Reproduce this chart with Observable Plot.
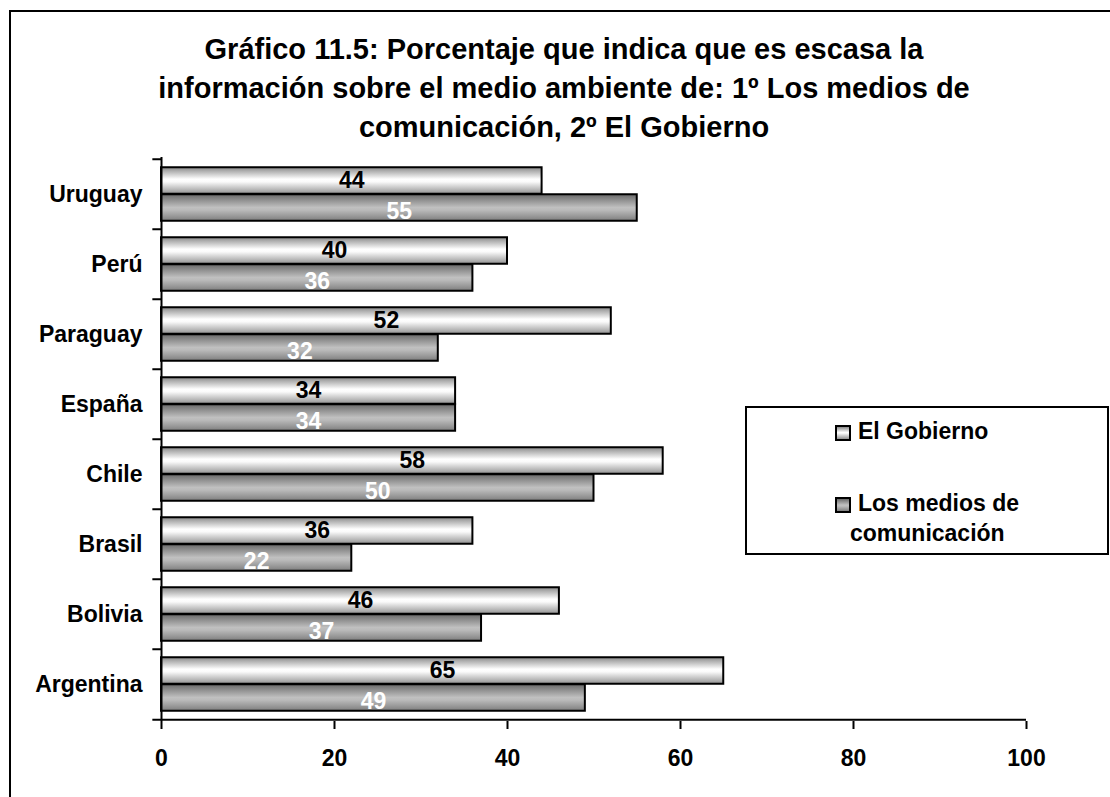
<!DOCTYPE html>
<html>
<head>
<meta charset="utf-8">
<script src="https://cdn.jsdelivr.net/npm/d3@7"></script>
<script src="https://cdn.jsdelivr.net/npm/@observablehq/plot@0.6"></script>
<style>
  body { margin: 0; background: #fff; font-family: "Liberation Sans", Arial, sans-serif; }
  #wrap { position: relative; width: 1110px; height: 797px; overflow: hidden; background: #fff; }
  #frame { position: absolute; left: 9px; top: 10px; width: 1200px; height: 900px; border: 2px solid #000; }
  #title { position: absolute; left: 0; top: 0; width: 1128px; padding-top: 30px; text-align: center;
           font-weight: bold; font-size: 29px; line-height: 39px; color: #000; }
  #chart { position: absolute; left: 0; top: 140px; }
  #legend { position: absolute; left: 745px; top: 406px; width: 360px; height: 145px; border: 2px solid #000; background: #fff; }
  .sw { position: absolute; width: 12px; height: 12px; border: 2px solid #000; }
  .lt { position: absolute; font-weight: bold; font-size: 23px; line-height: 27px; white-space: nowrap; color: #000; }
</style>
</head>
<body>
<div id="wrap">
  <div id="frame"></div>
  <div id="title"></div>
  <div id="chart"></div>
  <div id="legend"></div>
</div>
<script>
// ---- data ----
const titleLines = [
  "Gráfico 11.5: Porcentaje que indica que es escasa la",
  "información sobre el medio ambiente de: 1º Los medios de",
  "comunicación, 2º El Gobierno"
];
const countries = ["Uruguay", "Perú", "Paraguay", "España", "Chile", "Brasil", "Bolivia", "Argentina"];
const gobierno = [44, 40, 52, 34, 58, 36, 46, 65];
const medios = [55, 36, 32, 34, 50, 22, 37, 49];
const seriesNames = ["El Gobierno", "Los medios de comunicación"];
const xTicks = [0, 20, 40, 60, 80, 100];

// ---- tables ----
const rowsGob = countries.map((c, i) => ({country: c, value: gobierno[i]}));
const rowsMed = countries.map((c, i) => ({country: c, value: medios[i]}));

// ---- layout ----
const W = 1110, H = 657;
const mTop = 17, mBottom = 76, mLeft = 161, mRight = 84;
const step = (H - mTop - mBottom) / countries.length;
const barH = 27;
const pad = (step - 2 * barH) / 2;
const font = "Liberation Sans, Arial, sans-serif";

document.getElementById("title").innerHTML = titleLines.join("<br>");

const svg = Plot.plot({
  width: W,
  height: H,
  marginTop: mTop,
  marginBottom: mBottom,
  marginLeft: mLeft,
  marginRight: mRight,
  style: {fontFamily: font, background: "transparent", overflow: "visible"},
  x: {domain: [0, 100], ticks: xTicks, label: null},
  y: {domain: countries, padding: 0, label: null},
  marks: [
    Plot.barX(rowsGob, {x: "value", y: "country", fill: "url(#gGob)", stroke: "#000", strokeWidth: 2,
      insetTop: pad, insetBottom: step - pad - barH}),
    Plot.barX(rowsMed, {x: "value", y: "country", fill: "url(#gMed)", stroke: "#000", strokeWidth: 2,
      insetTop: pad + barH, insetBottom: pad}),
    Plot.ruleX([0], {stroke: "#000", strokeWidth: 2}),
    Plot.ruleY(countries, {y: d => d, x1: -1, x2: 0, dy: -step / 2, stroke: "#000", strokeWidth: 2}),
    Plot.ruleY(countries.slice(-1), {y: d => d, x1: -1, x2: 100, dy: step / 2, stroke: "#000", strokeWidth: 2}),
    Plot.axisX(xTicks, {label: null, tickSize: 8, tickPadding: 20, fontSize: 23, fontWeight: "bold", stroke: "#000", strokeWidth: 2, fill: "#000"}),
    Plot.axisY({label: null, tickSize: 0, tickPadding: 19, fontSize: 23, fontWeight: "bold", fill: "#000"}),
    Plot.text(rowsGob, {x: d => d.value / 2, y: "country", text: "value", dy: -barH / 2,
      fontSize: 23, fontWeight: "bold", fill: "#000"}),
    Plot.text(rowsMed, {x: d => d.value / 2, y: "country", text: "value", dy: barH / 2 + 4,
      fontSize: 23, fontWeight: "bold", fill: "#fff"})
  ]
});

// gradients for cylinder-like shading
const defs = d3.select(svg).insert("defs", ":first-child");
function grad(id, stops) {
  const g = defs.append("linearGradient").attr("id", id)
    .attr("x1", 0).attr("y1", 0).attr("x2", 0).attr("y2", 1);
  stops.forEach(([o, c]) => g.append("stop").attr("offset", o).attr("stop-color", c));
}
grad("gGob", [[0, "#8a8a8a"], [0.45, "#ffffff"], [0.55, "#fafafa"], [1, "#939393"]]);
grad("gMed", [[0, "#6a6a6a"], [0.5, "#c0c0c0"], [0.6, "#bababa"], [1, "#7e7e7e"]]);

document.getElementById("chart").appendChild(svg);

// ---- legend ----
const legend = document.getElementById("legend");
const swGrad = [
  "linear-gradient(to bottom, #8a8a8a, #ffffff 45%, #f5f5f5 55%, #939393)",
  "linear-gradient(to bottom, #6a6a6a, #c0c0c0 50%, #bababa 60%, #7e7e7e)"
];
legend.innerHTML =
  `<div class="sw" style="left:88px;top:17px;background:${swGrad[0]}"></div>` +
  `<div class="lt" style="left:111px;top:10px">${seriesNames[0]}</div>` +
  `<div class="sw" style="left:88px;top:89px;background:${swGrad[1]}"></div>` +
  `<div class="lt" style="left:111px;top:82px">Los medios de</div>` +
  `<div class="lt" style="left:103px;top:112px">comunicación</div>`;
</script>
</body>
</html>
